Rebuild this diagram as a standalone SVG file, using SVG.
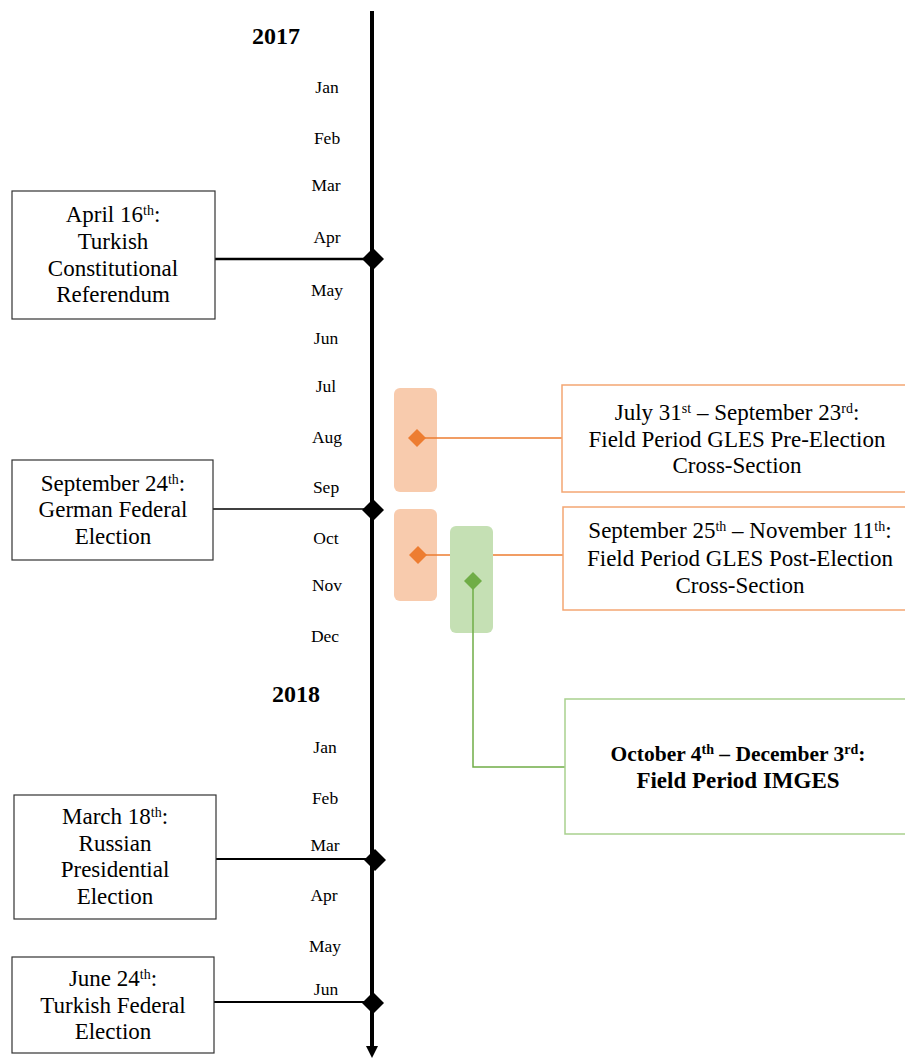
<svg xmlns="http://www.w3.org/2000/svg" width="905" height="1058" viewBox="0 0 905 1058">
<style>
text{font-family:"Liberation Serif","Times New Roman",serif;fill:#000}
.m{font-size:17.5px;text-anchor:middle}
.y{font-size:24px;font-weight:bold;text-anchor:middle}
.t{font-size:23px;text-anchor:middle}
.b{font-weight:bold}
.box{fill:#fff;stroke:#333;stroke-width:1.2}
.ob{fill:#fff;stroke:#f4a673;stroke-width:1.5}
.gb{fill:#fff;stroke:#a9d18e;stroke-width:1.5}
.sup{font-size:14px}
</style>
<rect width="905" height="1058" fill="#fff"/>

<g id="axis">
<line x1="372" y1="11" x2="372" y2="1046" stroke="#000" stroke-width="4"/>
<path d="M366,1046 L378,1046 L372,1058 Z" fill="#000"/>
</g>

<g id="labels">
<text class="y" x="276" y="44">2017</text>
<text class="m" x="327" y="93">Jan</text>
<text class="m" x="327" y="144">Feb</text>
<text class="m" x="326" y="191">Mar</text>
<text class="m" x="327" y="243">Apr</text>
<text class="m" x="327" y="296">May</text>
<text class="m" x="326" y="344">Jun</text>
<text class="m" x="326" y="392">Jul</text>
<text class="m" x="327" y="443">Aug</text>
<text class="m" x="326" y="493">Sep</text>
<text class="m" x="326" y="544">Oct</text>
<text class="m" x="327" y="591">Nov</text>
<text class="m" x="325" y="642">Dec</text>
<text class="y" x="296" y="702">2018</text>
<text class="m" x="325" y="753">Jan</text>
<text class="m" x="325" y="804">Feb</text>
<text class="m" x="325" y="851">Mar</text>
<text class="m" x="324" y="901">Apr</text>
<text class="m" x="325" y="952">May</text>
<text class="m" x="326" y="995">Jun</text>
</g>

<g id="bars">
<rect x="394" y="388" width="43" height="104" rx="6" fill="#f8cbad"/>
<rect x="394" y="509" width="43" height="92" rx="6" fill="#f8cbad"/>
</g>

<g id="connectors">
<line x1="215" y1="259" x2="372" y2="259" stroke="#000" stroke-width="2.5"/>
<line x1="213" y1="509" x2="372" y2="509" stroke="#000" stroke-width="1.5"/>
<line x1="216" y1="859" x2="372" y2="859" stroke="#000" stroke-width="2"/>
<line x1="214" y1="1002" x2="372" y2="1002" stroke="#000" stroke-width="2"/>
<line x1="417" y1="438" x2="562" y2="438" stroke="#ed7d31" stroke-width="1.5"/>
<line x1="418" y1="555" x2="563" y2="555" stroke="#ed7d31" stroke-width="1.5"/>
</g>

<g id="greenbar">
<rect x="450" y="526" width="43" height="107" rx="6" fill="#c5e0b4"/>
</g>

<g id="connectors2">
<polyline points="473,581 473,767 565,767" fill="none" stroke="#70ad47" stroke-width="1.5"/>
</g>

<g id="markers">
<path d="M373,248 L384,259 L373,270 L362,259 Z" fill="#000"/>
<path d="M373,499 L384,510 L373,521 L362,510 Z" fill="#000"/>
<path d="M375,849 L386,860 L375,871 L364,860 Z" fill="#000"/>
<path d="M373,992 L384,1003 L373,1014 L362,1003 Z" fill="#000"/>
<path d="M417,429 L426,438 L417,447 L408,438 Z" fill="#ed7d31"/>
<path d="M418,546 L427,555 L418,564 L409,555 Z" fill="#ed7d31"/>
<path d="M473,572 L482,581 L473,590 L464,581 Z" fill="#70ad47"/>
</g>

<g id="node-april">
<rect class="box" x="12" y="191" width="203" height="128"/>
<text class="t" x="113" y="222">April 16<tspan class="sup" dy="-7">th</tspan><tspan dy="7">:</tspan></text>
<text class="t" x="113" y="249">Turkish</text>
<text class="t" x="113" y="276">Constitutional</text>
<text class="t" x="113" y="302">Referendum</text>
</g>

<g id="node-september">
<rect class="box" x="12" y="460" width="201" height="100"/>
<text class="t" x="113" y="491">September 24<tspan class="sup" dy="-7">th</tspan><tspan dy="7">:</tspan></text>
<text class="t" x="113" y="517">German Federal</text>
<text class="t" x="113" y="544">Election</text>
</g>

<g id="node-march">
<rect class="box" x="14" y="795" width="202" height="124"/>
<text class="t" x="115" y="824">March 18<tspan class="sup" dy="-7">th</tspan><tspan dy="7">:</tspan></text>
<text class="t" x="115" y="851">Russian</text>
<text class="t" x="115" y="877">Presidential</text>
<text class="t" x="115" y="904">Election</text>
</g>

<g id="node-june">
<rect class="box" x="12" y="957" width="202" height="96"/>
<text class="t" x="113" y="986">June 24<tspan class="sup" dy="-7">th</tspan><tspan dy="7">:</tspan></text>
<text class="t" x="113" y="1013">Turkish Federal</text>
<text class="t" x="113" y="1039">Election</text>
</g>

<g id="node-pre">
<rect class="ob" x="562" y="385" width="350" height="107"/>
<text class="t" x="737" y="420">July 31<tspan class="sup" dy="-7">st</tspan><tspan dy="7"> – September 23</tspan><tspan class="sup" dy="-7">rd</tspan><tspan dy="7">:</tspan></text>
<text class="t" x="737" y="447">Field Period GLES Pre-Election</text>
<text class="t" x="737" y="473">Cross-Section</text>
</g>

<g id="node-post">
<rect class="ob" x="563" y="507" width="349" height="103"/>
<text class="t" x="740" y="538">September 25<tspan class="sup" dy="-7">th</tspan><tspan dy="7"> – November 11</tspan><tspan class="sup" dy="-7">th</tspan><tspan dy="7">:</tspan></text>
<text class="t" x="740" y="566">Field Period GLES Post-Election</text>
<text class="t" x="740" y="593">Cross-Section</text>
</g>

<g id="node-imges">
<rect class="gb" x="565" y="699" width="347" height="135"/>
<text class="t b" x="738" y="761" style="font-size:21.5px">October 4<tspan class="sup" dy="-7">th</tspan><tspan dy="7"> – December 3</tspan><tspan class="sup" dy="-7">rd</tspan><tspan dy="7">:</tspan></text>
<text class="t b" x="738" y="788">Field Period IMGES</text>
</g>
</svg>
